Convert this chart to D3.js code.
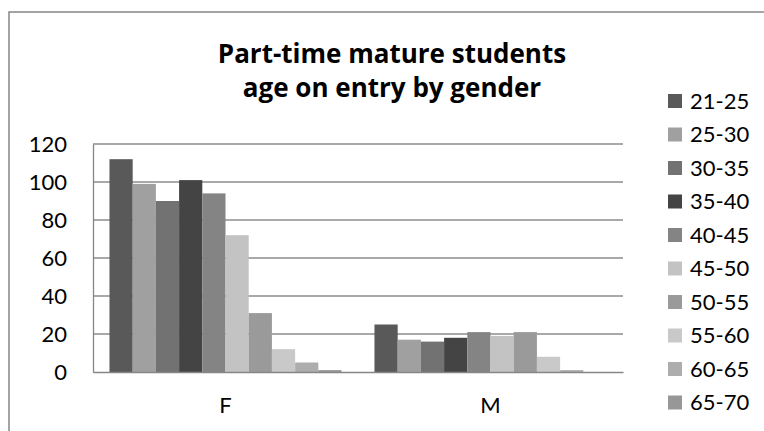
<script src="https://d3js.org/d3.v7.min.js"></script>
<style>
  body { margin: 0; background: #fff; }
  text { font-family: Lato, "Open Sans", sans-serif; fill: #000; }
</style>
<svg width="764" height="431"></svg>
<script>
// data
const genders = ["F", "M"];
const ages = ["21-25", "25-30", "30-35", "35-40", "40-45", "45-50", "50-55", "55-60", "60-65", "65-70"];
const femaleCounts = [112, 99, 90, 101, 94, 72, 31, 12, 5, 1];
const maleCounts = [25, 17, 16, 18, 21, 19, 21, 8, 1, 0];
const yTicks = [0, 20, 40, 60, 80, 100, 120];
const titleLines = ["Part-time mature students", "age on entry by gender"];
const greys = ["#595959", "#a0a0a0", "#727272", "#444444", "#848484", "#c3c3c3", "#9a9a9a", "#c9c9c9", "#adadad", "#979797"];

const svg = d3.select("svg");
const plot = { left: 93, right: 623, top: 144, bottom: 372 };

// chart frame (runs off the right and bottom edge)
svg.append("rect")
    .attr("x", 9).attr("y", 12)
    .attr("width", 800).attr("height", 500)
    .attr("fill", "#fff")
    .attr("stroke", "#868686")
    .attr("stroke-width", 1.5);

const title = svg.append("text")
    .attr("text-anchor", "middle")
    .style("font-family", "'Open Sans', sans-serif")
    .style("font-weight", "bold")
    .style("font-size", "26px");
titleLines.forEach((t, i) => {
  title.append("tspan").attr("x", 392).attr("y", 63 + i * 34).text(t);
});

const y = d3.scaleLinear().domain([0, 120]).range([plot.bottom, plot.top]);
const x0 = d3.scaleBand().domain(genders).range([plot.left, plot.right]);
const x1 = d3.scaleBand().domain(ages).range([0, x0.bandwidth()]).paddingOuter(0.71);
const color = d3.scaleOrdinal().domain(ages).range(greys);

// gridlines
svg.append("g")
  .selectAll("line")
  .data(yTicks.filter(d => d > 0))
  .join("line")
    .attr("x1", plot.left).attr("x2", plot.right)
    .attr("y1", d => y(d)).attr("y2", d => y(d))
    .attr("stroke", "#8c8c8c")
    .attr("stroke-width", 1.3);

const rows = genders.map((g, i) => ({ g, vals: i === 0 ? femaleCounts : maleCounts }));

svg.append("g")
  .selectAll("g")
  .data(rows)
  .join("g")
    .attr("transform", d => `translate(${x0(d.g)},0)`)
  .selectAll("rect")
  .data(d => d.vals.map((v, i) => ({ age: ages[i], v })))
  .join("rect")
    .attr("x", d => x1(d.age))
    .attr("width", x1.bandwidth())
    .attr("y", d => y(d.v))
    .attr("height", d => y(0) - y(d.v))
    .attr("fill", d => color(d.age));

// y axis
const yAxis = svg.append("g")
    .attr("transform", `translate(${plot.left},0)`)
    .call(d3.axisLeft(y).tickValues(yTicks).tickSize(0).tickPadding(26));
yAxis.select(".domain").attr("stroke", "#868686").attr("stroke-width", 1.3);
yAxis.selectAll("text").style("font-size", "22px").style("font-family", "Lato, sans-serif");

// x axis
const xAxis = svg.append("g")
    .attr("transform", `translate(0,${plot.bottom})`)
    .call(d3.axisBottom(x0).tickSize(0).tickPadding(25));
xAxis.select(".domain").attr("stroke", "#868686").attr("stroke-width", 1.5);
xAxis.selectAll("text").style("font-size", "22px").style("font-family", "Lato, sans-serif");

// legend
const legend = svg.append("g")
  .selectAll("g")
  .data(ages)
  .join("g")
    .attr("transform", (d, i) => `translate(668,${101 + i * 33.5})`);
legend.append("rect")
    .attr("y", -7).attr("width", 14).attr("height", 14)
    .attr("fill", d => color(d));
legend.append("text")
    .attr("x", 22).attr("dy", "0.35em")
    .style("font-size", "22px")
    .text(d => d);
</script>
